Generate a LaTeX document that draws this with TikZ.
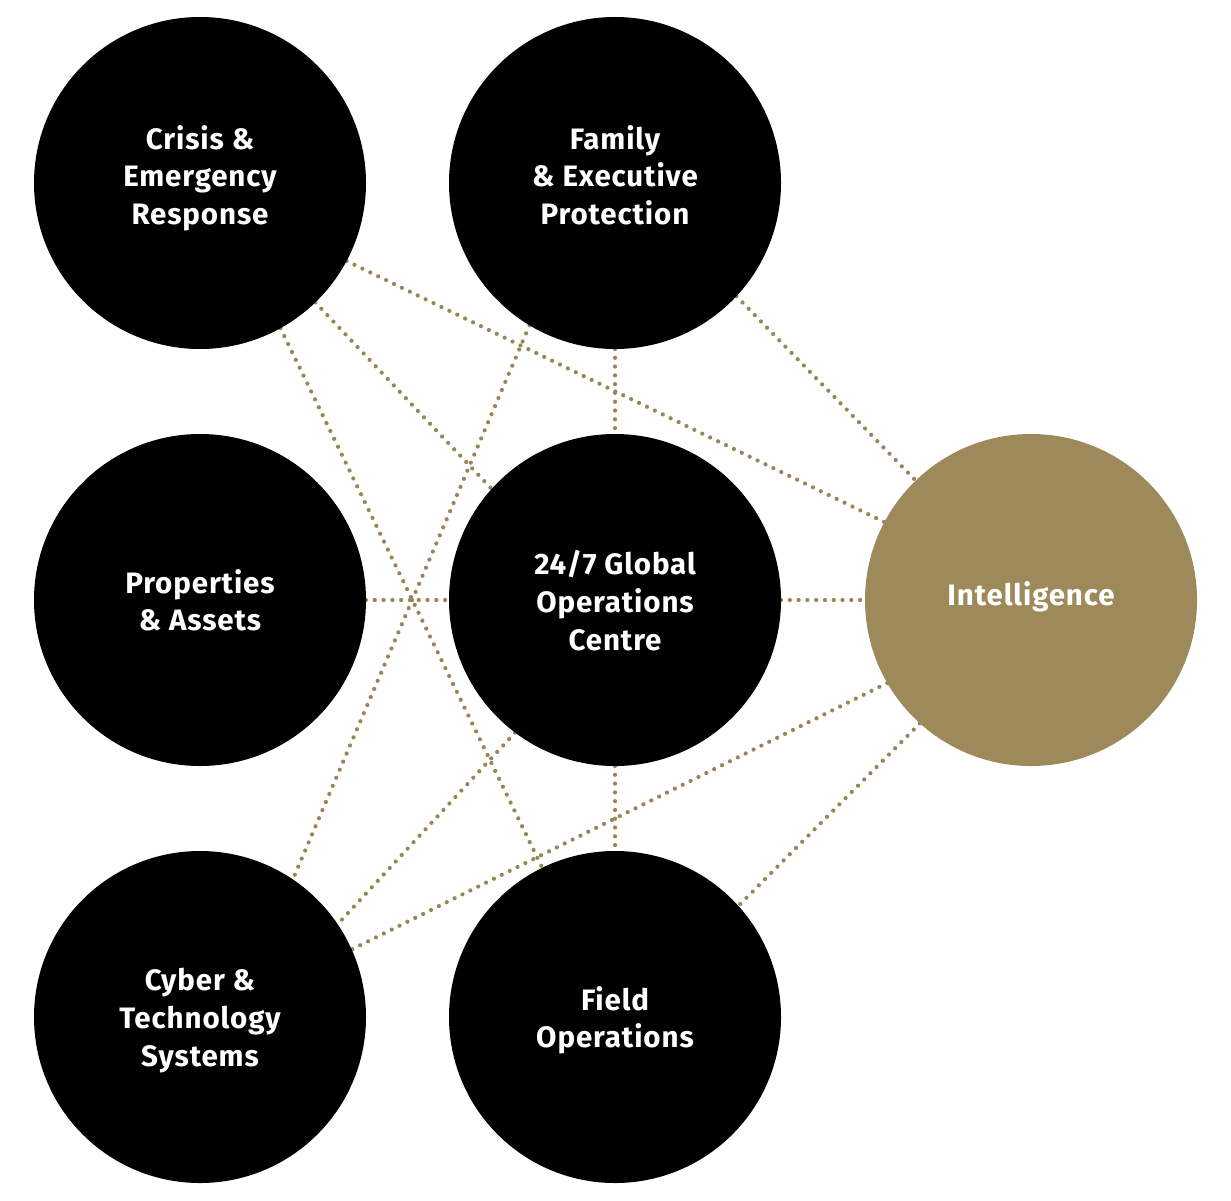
\documentclass[tikz,border=0pt]{standalone}
\usepackage{fontspec}
\setsansfont{Fira Sans}[LetterSpace=3]
\usepackage{xcolor}
\usepackage{tikz}
\usetikzlibrary{positioning,backgrounds}

\definecolor{gold}{RGB}{158,137,90}
\definecolor{golddot}{RGB}{154,133,86}

\begin{document}
\begin{tikzpicture}[
    hub/.style={circle, fill=#1, minimum size=3.32cm, inner sep=0pt,
                outer sep=0pt, align=center, text=white, text depth=0pt,
                font=\sffamily\bfseries\fontsize{8.4}{10.8}\selectfont},
    hub/.default=black,
    lift/.style={text depth=#1},
    link/.style={draw=golddot, line width=1.2pt, line cap=round,
                 dash pattern=on 0pt off 2.5pt},
  ]
  \useasboundingbox (0,0) rectangle (12.31,12.00);

  \node[hub, lift=0.16cm] (crisis) at (2.00,10.17) {Crisis \&\\Emergency\\Response};
  \node[hub, lift=0.16cm, right=0.83 of crisis] (family) {Family\\\& Executive\\Protection};
  \node[hub, below=0.85 of crisis] (assets) {Properties\\\& Assets};
  \node[hub, right=0.83 of assets] (gsoc) {24/7 Global\\Operations\\Centre};
  \node[hub=gold, lift=0.12cm, right=0.84 of gsoc] (intel) {Intelligence};
  \node[hub, below=0.85 of assets] (cyber) {Cyber \&\\Technology\\Systems};
  \node[hub, right=0.83 of cyber] (field) {Field\\Operations};

  % dotted links behind the circles
  \begin{scope}[on background layer]
    \draw[link] (crisis.-28) -- (intel.152);
    \draw[link] (crisis.-46.5) -- (gsoc.138);
    \draw[link] (crisis.-61) -- (field.116.5);
    \draw[link] (family.239) -- (cyber.56.5);
    \draw[link] (family.south) -- (gsoc.north);
    \draw[link] (family.-43.5) -- (intel.134);
    \draw[link] (assets.east) -- (gsoc.west);
    \draw[link] (gsoc.east) -- (intel.west);
    \draw[link] (gsoc.233) -- (cyber.34);
    \draw[link] (gsoc.south) -- (field.north);
    \draw[link] (intel.210) -- (cyber.24.7);
    \draw[link] (intel.228.5) -- (field.42);
  \end{scope}
\end{tikzpicture}
\end{document}
